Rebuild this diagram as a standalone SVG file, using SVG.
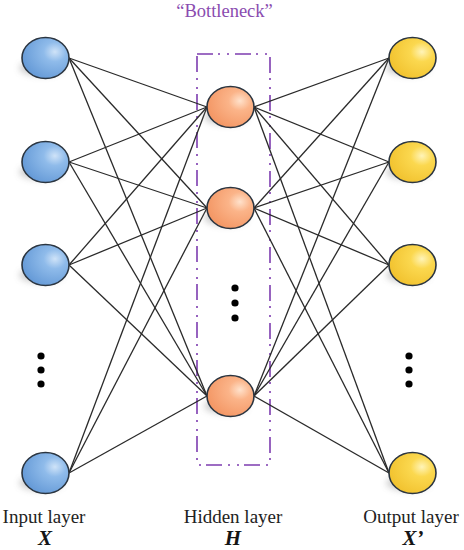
<svg xmlns="http://www.w3.org/2000/svg" width="464" height="550" viewBox="0 0 464 550">
<defs>
<radialGradient id="gb" cx="0.7" cy="0.35" r="0.8"><stop offset="0" stop-color="#cfe3f8"/><stop offset="0.3" stop-color="#8fbbea"/><stop offset="1" stop-color="#5f95d4"/></radialGradient>
<radialGradient id="go" cx="0.7" cy="0.35" r="0.8"><stop offset="0" stop-color="#ffe2cc"/><stop offset="0.3" stop-color="#fbb489"/><stop offset="1" stop-color="#f2925f"/></radialGradient>
<radialGradient id="gy" cx="0.7" cy="0.35" r="0.8"><stop offset="0" stop-color="#fff4b8"/><stop offset="0.3" stop-color="#fbd84f"/><stop offset="1" stop-color="#f0bf2a"/></radialGradient>
<filter id="blur" x="-50%" y="-50%" width="200%" height="200%"><feGaussianBlur stdDeviation="3"/></filter>
<g id="shadow"><ellipse cx="-4" cy="10" rx="22" ry="8" fill="#999" opacity="0.45" filter="url(#blur)"/></g>
</defs>
<style>
.n{stroke:#2b3540;stroke-width:1.6}
.b{fill:url(#gb)}.o{fill:url(#go)}.y{fill:url(#gy)}
.e line{stroke:#2a2a2a;stroke-width:1.3}
.dot{fill:#000}
.lbl{font-family:"Liberation Serif",serif;font-size:19px;fill:#222;text-anchor:middle}
.sym{font-family:"Liberation Serif",serif;font-size:21px;font-weight:bold;font-style:italic;fill:#151515;text-anchor:middle}
</style>
<text x="224.5" y="17" font-family="Liberation Serif,serif" font-size="18.5" fill="#8a4cb0" text-anchor="middle">“Bottleneck”</text>
<rect id="bottleneck" x="197" y="54" width="73" height="411" fill="none" stroke="#7d3cb0" stroke-width="1.6" stroke-dasharray="16,5,2,7,2,6"/>
<g class="e" id="connectors">
<line x1="69" y1="58" x2="207" y2="107"/><line x1="69" y1="58" x2="207" y2="208"/><line x1="69" y1="58" x2="207" y2="396"/>
<line x1="69" y1="162" x2="207" y2="107"/><line x1="69" y1="162" x2="207" y2="208"/><line x1="69" y1="162" x2="207" y2="396"/>
<line x1="69" y1="265" x2="207" y2="107"/><line x1="69" y1="265" x2="207" y2="208"/><line x1="69" y1="265" x2="207" y2="396"/>
<line x1="69" y1="473" x2="207" y2="107"/><line x1="69" y1="473" x2="207" y2="208"/><line x1="69" y1="473" x2="207" y2="396"/>
<line x1="254" y1="107" x2="389" y2="58"/><line x1="254" y1="107" x2="389" y2="162"/><line x1="254" y1="107" x2="389" y2="265"/><line x1="254" y1="107" x2="389" y2="473"/>
<line x1="254" y1="208" x2="389" y2="58"/><line x1="254" y1="208" x2="389" y2="162"/><line x1="254" y1="208" x2="389" y2="265"/><line x1="254" y1="208" x2="389" y2="473"/>
<line x1="254" y1="396" x2="389" y2="58"/><line x1="254" y1="396" x2="389" y2="162"/><line x1="254" y1="396" x2="389" y2="265"/><line x1="254" y1="396" x2="389" y2="473"/>
</g>
<g id="in1"><use href="#shadow" x="45" y="58"/><ellipse class="n b" cx="45.5" cy="58" rx="23.5" ry="20.5"/></g>
<g id="in2"><use href="#shadow" x="45" y="162"/><ellipse class="n b" cx="45.5" cy="162" rx="23.5" ry="20.5"/></g>
<g id="in3"><use href="#shadow" x="45" y="265"/><ellipse class="n b" cx="45.5" cy="265" rx="23.5" ry="20.5"/></g>
<g id="in4"><use href="#shadow" x="45" y="473"/><ellipse class="n b" cx="45.5" cy="473" rx="23.5" ry="20.5"/></g>
<g id="indots"><circle class="dot" cx="41" cy="356" r="3.6"/><circle class="dot" cx="41" cy="370" r="3.6"/><circle class="dot" cx="41" cy="384" r="3.6"/></g>
<g id="h1"><use href="#shadow" x="230" y="107"/><ellipse class="n o" cx="230.5" cy="107" rx="23.5" ry="20.5"/></g>
<g id="h2"><use href="#shadow" x="230" y="208"/><ellipse class="n o" cx="230.5" cy="208" rx="23.5" ry="20.5"/></g>
<g id="h3"><use href="#shadow" x="230" y="396"/><ellipse class="n o" cx="230.5" cy="396" rx="23.5" ry="20.5"/></g>
<g id="hdots"><circle class="dot" cx="235" cy="288" r="3.6"/><circle class="dot" cx="235" cy="303" r="3.6"/><circle class="dot" cx="235" cy="318" r="3.6"/></g>
<g id="out1"><use href="#shadow" x="412" y="58"/><ellipse class="n y" cx="412.5" cy="58" rx="23.5" ry="20.5"/></g>
<g id="out2"><use href="#shadow" x="412" y="162"/><ellipse class="n y" cx="412.5" cy="162" rx="23.5" ry="20.5"/></g>
<g id="out3"><use href="#shadow" x="412" y="265"/><ellipse class="n y" cx="412.5" cy="265" rx="23.5" ry="20.5"/></g>
<g id="out4"><use href="#shadow" x="412" y="473"/><ellipse class="n y" cx="412.5" cy="473" rx="23.5" ry="20.5"/></g>
<g id="outdots"><circle class="dot" cx="409" cy="356" r="3.6"/><circle class="dot" cx="409" cy="370" r="3.6"/><circle class="dot" cx="409" cy="384" r="3.6"/></g>
<g id="labels">
<text class="lbl" x="44" y="523">Input layer</text><text class="sym" x="45" y="545">X</text>
<text class="lbl" x="233" y="523">Hidden layer</text><text class="sym" x="233" y="545">H</text>
<text class="lbl" x="411" y="523">Output layer</text><text class="sym" x="413" y="545">X’</text>
</g>
</svg>
